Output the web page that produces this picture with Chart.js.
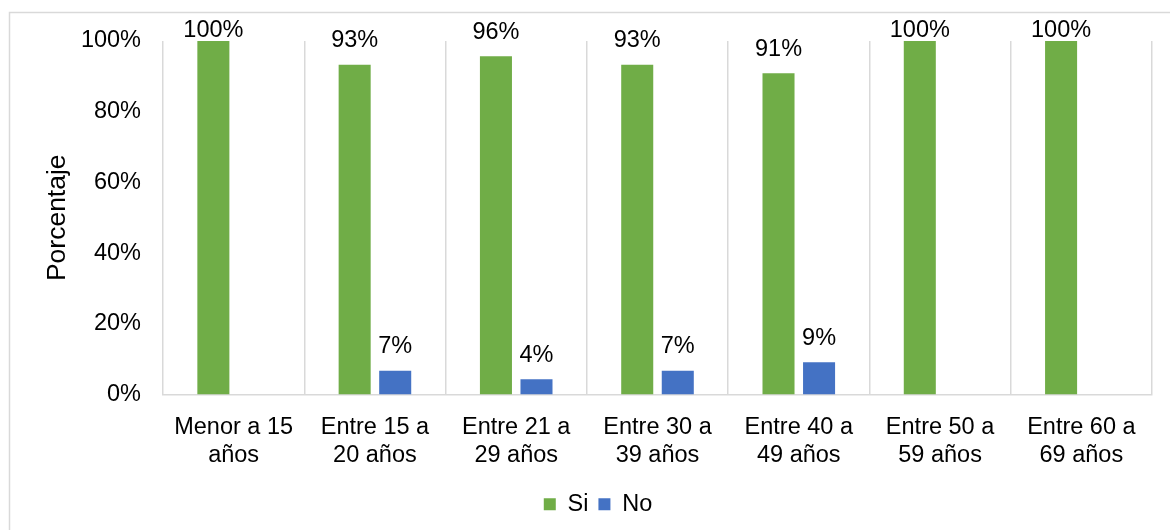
<!DOCTYPE html>
<html>
<head>
<meta charset="utf-8">
<script src="https://cdn.jsdelivr.net/npm/chart.js@4.4.1/dist/chart.umd.min.js"></script>
<style>
  html, body { margin: 0; padding: 0; background: #ffffff; }
  #wrap { position: relative; width: 1170px; height: 530px; }
  canvas { display: block; }
</style>
</head>
<body>
<div id="wrap"><canvas id="c" width="1170" height="530"></canvas></div>
<script>
const categories = [
  ["Menor a 15", "años"],
  ["Entre 15 a", "20 años"],
  ["Entre 21 a", "29 años"],
  ["Entre 30 a", "39 años"],
  ["Entre 40 a", "49 años"],
  ["Entre 50 a", "59 años"],
  ["Entre 60 a", "69 años"]
];
const seriesNames = ["Si", "No"];
const siValues = [100, 93.3, 95.7, 93.3, 90.9, 100, 100];
const noValues = [0, 6.7, 4.3, 6.7, 9.1, 0, 0];
const yTicks = [0, 20, 40, 60, 80, 100];

const FONT = "'Liberation Sans', Arial, Helvetica, sans-serif";
const FS = 23.5;

const frame = {
  id: 'frame',
  beforeDraw(chart) {
    const ctx = chart.ctx;
    ctx.save();
    ctx.strokeStyle = '#D9D9D9';
    ctx.lineWidth = 1.5;
    ctx.beginPath();
    ctx.moveTo(9.5, 540);
    ctx.lineTo(9.5, 12.5);
    ctx.lineTo(1175, 12.5);
    ctx.stroke();
    ctx.restore();
  }
};

const valueLabels = {
  id: 'valueLabels',
  afterDatasetsDraw(chart) {
    const ctx = chart.ctx;
    ctx.save();
    ctx.font = FS + 'px ' + FONT;
    ctx.fillStyle = '#000000';
    ctx.textAlign = 'center';
    ctx.textBaseline = 'middle';
    chart.data.datasets.forEach((ds, di) => {
      const meta = chart.getDatasetMeta(di);
      meta.data.forEach((bar, i) => {
        const v = ds.data[i];
        if (!v) return;
        const y = Math.max(bar.y - 24, 31);
        ctx.fillText(Math.round(v) + '%', bar.x, y);
      });
    });
    ctx.restore();
  }
};

new Chart(document.getElementById('c'), {
  type: 'bar',
  data: {
    labels: categories,
    datasets: [
      { label: seriesNames[0], data: siValues, backgroundColor: '#70AD47', borderWidth: 0 },
      { label: seriesNames[1], data: noValues, backgroundColor: '#4472C4', borderWidth: 0 }
    ]
  },
  options: {
    responsive: false,
    animation: false,
    devicePixelRatio: 1,
    categoryPercentage: 0.574,
    barPercentage: 0.79,
    layout: { padding: { left: 44, right: 18, top: 41, bottom: 4 } },
    plugins: {
      tooltip: { enabled: false },
      legend: {
        position: 'bottom',
        labels: {
          boxWidth: 12,
          boxHeight: 12,
          padding: 10,
          color: '#000000',
          font: { size: FS, family: FONT }
        }
      }
    },
    scales: {
      x: {
        grid: { display: true, offset: true, color: '#D9D9D9', lineWidth: 1.5, drawTicks: false },
        border: { display: true, color: '#D9D9D9', width: 1.5 },
        ticks: {
          color: '#000000',
          font: { size: FS, family: FONT, lineHeight: 1.15 },
          padding: 20,
          maxRotation: 0,
          autoSkip: false
        },
        afterFit(scale) { scale.height = 88; }
      },
      y: {
        min: 0,
        max: 100,
        afterBuildTicks(scale) { scale.ticks = yTicks.map(v => ({ value: v })); },
        grid: { display: false, drawTicks: false },
        border: { display: false },
        ticks: {
          color: '#000000',
          font: { size: FS, family: FONT },
          padding: 22,
          callback: v => v + '%'
        },
        title: {
          display: true,
          text: 'Porcentaje',
          color: '#000000',
          font: { size: 26.5, family: FONT },
          padding: { top: -2, bottom: 0 }
        },
        afterFit(scale) { scale.width = 119; }
      }
    }
  },
  plugins: [frame, valueLabels]
});
</script>
</body>
</html>
